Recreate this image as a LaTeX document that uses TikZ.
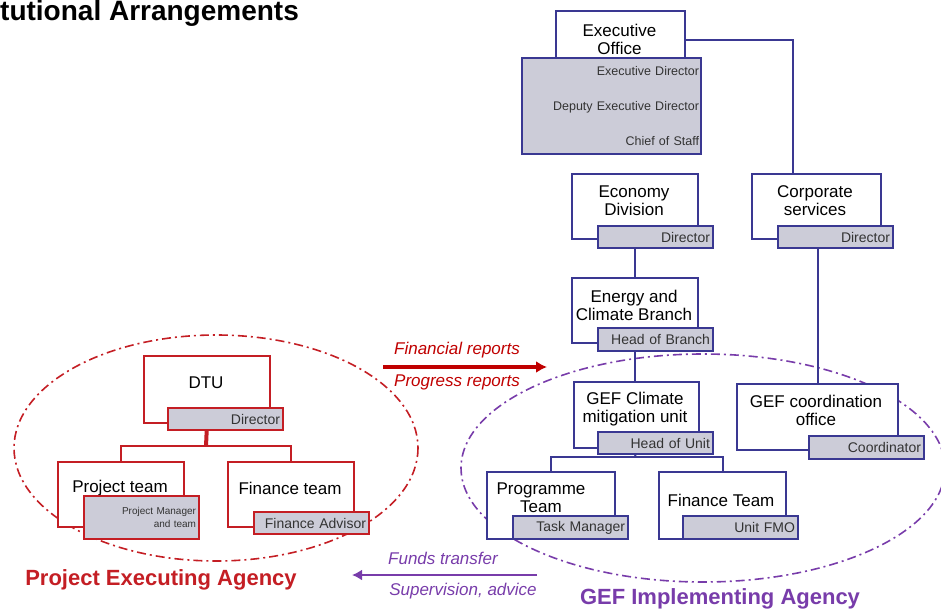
\documentclass[tikz,border=0pt]{standalone}
\usepackage{fontspec}
\setmainfont{Liberation Sans}
\usetikzlibrary{arrows.meta}

\definecolor{boxblue}{RGB}{58,56,146}
\definecolor{boxred}{RGB}{196,30,36}
\definecolor{rolegrey}{RGB}{204,204,216}
\definecolor{repred}{RGB}{192,0,0}
\definecolor{agpurple}{RGB}{120,60,170}

\newcommand{\unitfont}{\fontsize{17}{18}\selectfont}
\newcommand{\rolefont}{\fontsize{14}{15}\selectfont}
\newcommand{\smallrole}{\fontsize{12.5}{13}\selectfont}

\pgfdeclarelayer{background}
\pgfsetlayers{background,main}

\tikzset{
  unitbox/.style={draw=boxblue, fill=white, line width=2pt, anchor=north west, inner sep=0pt},
  unitred/.style={unitbox, draw=boxred},
  unittext/.style={align=center, font=\unitfont, inner sep=0pt},
  rolebox/.style={draw=boxblue, fill=rolegrey, line width=2pt, anchor=north west,
    inner sep=2pt, minimum width=115, minimum height=22, text width=#1, align=right,
    font=\rolefont, text=black!80},
  rolebox/.default=109,
  rolered/.style={rolebox=#1, draw=boxred},
  rolered/.default=109,
  link/.style={draw=boxblue, line width=2pt},
  redlink/.style={draw=boxred, line width=2pt},
  agencyring/.style={line width=1.6pt, dash pattern=on 9pt off 4pt on 2pt off 4pt},
  replabel/.style={font=\fontsize{17}{18}\selectfont\itshape, text=repred, inner sep=0pt},
  fundlabel/.style={font=\fontsize{17}{18}\selectfont\itshape, text=agpurple, inner sep=0pt},
  agency/.style={font=\bfseries\fontsize{22}{23}\selectfont, inner sep=0pt}
}

\begin{document}
\begin{tikzpicture}[x=1pt, y=-1pt]
\useasboundingbox (0,0) rectangle (941,612);

\node[anchor=base west, font=\bfseries\fontsize{28}{30}\selectfont, inner sep=0pt] (title) at (0,21) {tutional Arrangements};

% implementing agency
\node[unitbox, minimum width=129, minimum height=47] (exec) at (555,10) {};
\node[unittext] (exec-t) at (619.5,39) {Executive\\Office};
\node[rolebox=175, minimum width=179, minimum height=96, font=\smallrole, inner sep=1pt] (exec-r) at (521,57)
  {Executive Director\\[22pt]Deputy Executive Director\\[22pt]Chief of Staff};

\node[unitbox, minimum width=126, minimum height=65] (econ) at (571,173) {};
\node[unittext] (econ-t) at (634,201) {Economy\\Division};
\node[rolebox] (econ-r) at (597,225) {Director};

\node[unitbox, minimum width=129, minimum height=65] (corp) at (751,173) {};
\node[unittext] (corp-t) at (815,201) {Corporate\\services};
\node[rolebox] (corp-r) at (777,225) {Director};

\node[unitbox, minimum width=126, minimum height=65] (energy) at (571,277) {};
\node[unittext] (energy-t) at (634,305) {Energy and\\Climate Branch};
\node[rolebox, minimum height=23] (energy-r) at (597,327) {Head of Branch};

\node[unitbox, minimum width=125, minimum height=66] (gefcm) at (573,381) {};
\node[unittext] (gefcm-t) at (635,409) {GEF Climate\\mitigation unit};
\node[rolebox] (gefcm-r) at (597,431) {Head of Unit};

\node[unitbox, minimum width=161, minimum height=66] (gefco) at (736,383) {};
\node[unittext] (gefco-t) at (816,410) {GEF coordination\\office};
\node[rolebox, minimum height=23] (gefco-r) at (808,435) {Coordinator};

\node[unitbox, minimum width=128, minimum height=67] (prog) at (486,471) {};
\node[unittext] (prog-t) at (541,498) {Programme\\Team};
\node[rolebox, minimum height=23] (prog-r) at (512,515) {Task Manager};

\node[unitbox, minimum width=127, minimum height=67] (fint) at (658,471) {};
\node[unittext] (fint-t) at (721,500) {Finance Team};
\node[rolebox, minimum height=23] (fint-r) at (682,515) {Unit FMO};

\coordinate (cmfork) at (635,457);

% executing agency
\node[unitred, minimum width=126, minimum height=67] (dtu) at (143,355) {};
\node[unittext] (dtu-t) at (206,383) {DTU};
\node[rolered] (dtu-r) at (167,407) {Director};

\node[unitred, minimum width=126, minimum height=65] (pteam) at (57,461) {};
\node[unittext] (pteam-t) at (120,488) {Project team};
\node[rolered, minimum height=43, font=\fontsize{10}{13.5}\selectfont] (pteam-r) at (83,495) {Project Manager\\and team\\[8pt]};

\node[unitred, minimum width=126, minimum height=65] (fteam) at (227,461) {};
\node[unittext] (fteam-t) at (290,488) {Finance team};
\node[rolered] (fteam-r) at (253,511) {Finance Advisor};

\coordinate (dtufork) at (206,446);

\begin{pgfonlayer}{background}
  \draw[agencyring, draw=boxred] (216,448) ellipse [x radius=202, y radius=113];
  \draw[agencyring, draw=agpurple] (703,468) ellipse [x radius=242, y radius=114];
  \draw[link] ([yshift=-5.5pt]exec.east) -| ([xshift=-23.5pt]corp.north);
  \draw[link] (econ.south) -- (energy.north);
  \draw[link] (gefco.north |- corp.south) -- (gefco.north);
  \draw[link] (energy.south) -- (energy.south |- gefcm.north);
  \draw[link] (gefcm.south) -- (cmfork);
  \draw[link] (prog.north) |- (cmfork) -| (fint.north);
  \draw[redlink, line width=4pt] (dtu.south) -- (dtufork);
  \draw[redlink] (pteam.north) |- (dtufork) -| (fteam.north);
\end{pgfonlayer}

% flows between agencies
\coordinate (rep-s) at (383,367);
\coordinate (rep-e) at (547,367);
\draw[draw=repred, line width=3.4pt, -{Latex[length=11pt,width=12pt]}] (rep-s) -- (rep-e);
\node[replabel] (finrep) at (457,350) {Financial reports};
\node[replabel] (progrep) at (457,382) {Progress reports};

\coordinate (fund-s) at (537,575);
\coordinate (fund-e) at (352,575);
\draw[draw=agpurple, line width=2.8pt, -{Latex[length=10pt,width=11pt]}] (fund-s) -- (fund-e);
\node[fundlabel] (funds) at (443,558) {Funds transfer};
\node[fundlabel] (superv) at (463,591) {Supervision, advice};

\node[agency, text=boxred] (pea) at (161,580) {Project Executing Agency};
\node[agency, text=agpurple] (gia) at (720,599) {GEF Implementing Agency};
\end{tikzpicture}
\end{document}
